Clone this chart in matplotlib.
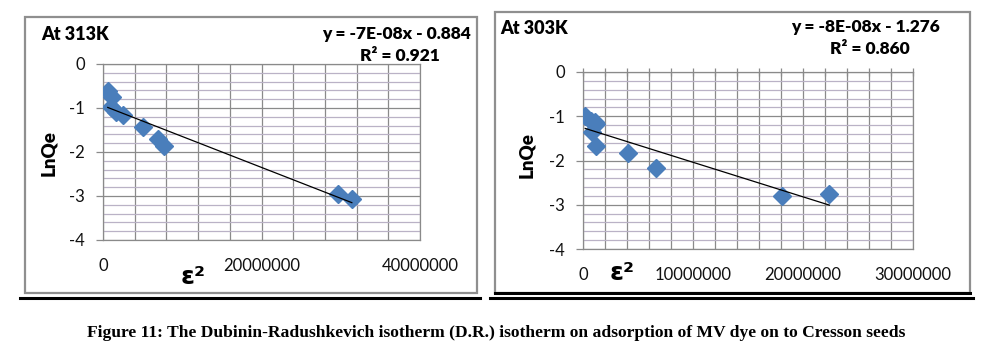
import numpy as np
import matplotlib
matplotlib.use("Agg")
import matplotlib.pyplot as plt
from matplotlib.patches import Rectangle
from matplotlib.lines import Line2D
from matplotlib.ticker import MultipleLocator, FuncFormatter

plt.rcParams['axes.unicode_minus'] = False
plt.rcParams['font.family'] = ['Lato', 'DejaVu Sans']

# ---- data (epsilon^2 vs LnQe) ----
eps2_313 = [0.6e6, 1.1e6, 1.0e6, 1.6e6, 2.5e6, 5.1e6, 6.9e6, 7.7e6, 29.6e6, 31.4e6]
lnqe_313 = [-0.62, -0.74, -0.98, -1.08, -1.16, -1.44, -1.70, -1.87, -2.95, -3.06]
eps2_303 = [0.2e6, 0.7e6, 1.1e6, 1.2e6, 0.8e6, 1.2e6, 4.1e6, 6.6e6, 18.1e6, 22.4e6]
lnqe_303 = [-1.00, -1.10, -1.12, -1.18, -1.35, -1.68, -1.84, -2.18, -2.80, -2.75]

eq_313 = "y = -7E-08x - 0.884"
r2_313 = "R² = 0.921"
eq_303 = "y = -8E-08x - 1.276"
r2_303 = "R² = 0.860"
caption = "Figure 11: The Dubinin-Radushkevich isotherm (D.R.) isotherm on adsorption of MV dye on to Cresson seeds"

W, H = 992, 355
fig = plt.figure(figsize=(W / 100, H / 100), dpi=100)
fig.patch.set_facecolor('white')

BLUE = '#4a7ebb'
MAJ = '#8a8a8a'
MIN = '#bab2c6'


def fx(px):
    return px / W


def fy(py):
    return 1 - py / H


def panel(box, black_bottom, area, xs, ys, xmax, xgrid, xlabstep, title, tpos, eq, eqpos, r2, r2pos,
          ylpos, epspos, top_ticks):
    # chart box
    x0, y0, x1, y1 = box
    fig.add_artist(Rectangle((fx(x0), fy(y1)), fx(x1 - x0), (y1 - y0) / H, transform=fig.transFigure,
                             fill=False, edgecolor='#8f8f8f', lw=1.6))
    if black_bottom:
        fig.add_artist(Line2D([fx(x0), fx(x1)], [fy(y1), fy(y1)], transform=fig.transFigure,
                              color='black', lw=2.2))
    fig.add_artist(Line2D([fx(x0 - 5), fx(x1 + 3)], [fy(298), fy(298)], transform=fig.transFigure,
                          color='black', lw=2.2))

    l, t, r, b = area
    ax = fig.add_axes([fx(l), fy(b), fx(r - l), (b - t) / H])
    ax.set_xlim(0, xmax)
    ax.set_ylim(-4, 0)
    ax.xaxis.set_major_locator(MultipleLocator(xgrid))
    ax.yaxis.set_major_locator(MultipleLocator(1))
    ax.yaxis.set_minor_locator(MultipleLocator(0.2))
    ax.xaxis.set_major_formatter(FuncFormatter(
        lambda v, p: f"{int(round(v))}" if abs(v / xlabstep - round(v / xlabstep)) < 1e-6 else ""))
    ax.yaxis.set_major_formatter(FuncFormatter(lambda v, p: f"{int(round(v))}"))
    ax.grid(True, which='major', color=MAJ, lw=0.9)
    ax.grid(True, which='minor', axis='y', color=MIN, lw=0.9)
    ax.set_axisbelow(True)
    for s in ax.spines.values():
        s.set_color(MAJ)
        s.set_linewidth(0.9)
    ax.tick_params(axis='y', which='major', length=5, color=MAJ, width=0.9, labelsize=12, pad=8,
                   labelcolor='#111111')
    ax.tick_params(axis='y', which='minor', length=0)
    ax.tick_params(axis='x', which='major', bottom=False, top=top_ticks, direction='inout', length=6,
                   color=MAJ, width=0.9, labelsize=12, pad=10, labelcolor='#111111')

    ax.plot(xs, ys, linestyle='none', marker='D', ms=9.5, color=BLUE, mec=BLUE, zorder=3)
    k, c = np.polyfit(xs, ys, 1)
    xr = np.array([min(xs), max(xs)])
    ax.plot(xr, k * xr + c, color='black', lw=0.9, zorder=4)

    fig.text(fx(tpos[0]), fy(tpos[1]), title, fontsize=13, fontweight='heavy', va='center', ha='left')
    fig.text(fx(eqpos[0]), fy(eqpos[1]), eq, fontsize=12.5, fontweight='heavy', va='center', ha='right')
    fig.text(fx(r2pos[0]), fy(r2pos[1]), r2, fontsize=12.5, fontweight='heavy', va='center', ha='right')
    fig.text(fx(ylpos[0]), fy(ylpos[1]), "LnQe", fontsize=13.5, fontweight='heavy', rotation=90,
             va='center', ha='center')
    fig.text(fx(epspos[0]), fy(epspos[1]), "ε²", fontsize=18, fontweight='bold', va='center',
             ha='center', family=['DejaVu Sans'])
    return ax


panel((25, 17, 477, 293), False, (103, 64, 420, 240), eps2_313, lnqe_313, 40e6, 4e6, 20e6,
      "At 313K", (41, 34), eq_313, (471, 34), r2_313, (440, 56), (49, 153), (193, 277), False)
panel((495, 12, 970, 293), True, (583, 72, 913, 249), eps2_303, lnqe_303, 30e6, 2e6, 10e6,
      "At 303K", (500, 28), eq_303, (940, 27), r2_303, (910, 49), (527, 155), (622, 273), True)

fig.text(fx(496), fy(333), caption, fontsize=12.6, fontweight='bold', family=['Liberation Serif'],
         ha='center', va='center')

fig.savefig("out.png", dpi=100, facecolor='white')
